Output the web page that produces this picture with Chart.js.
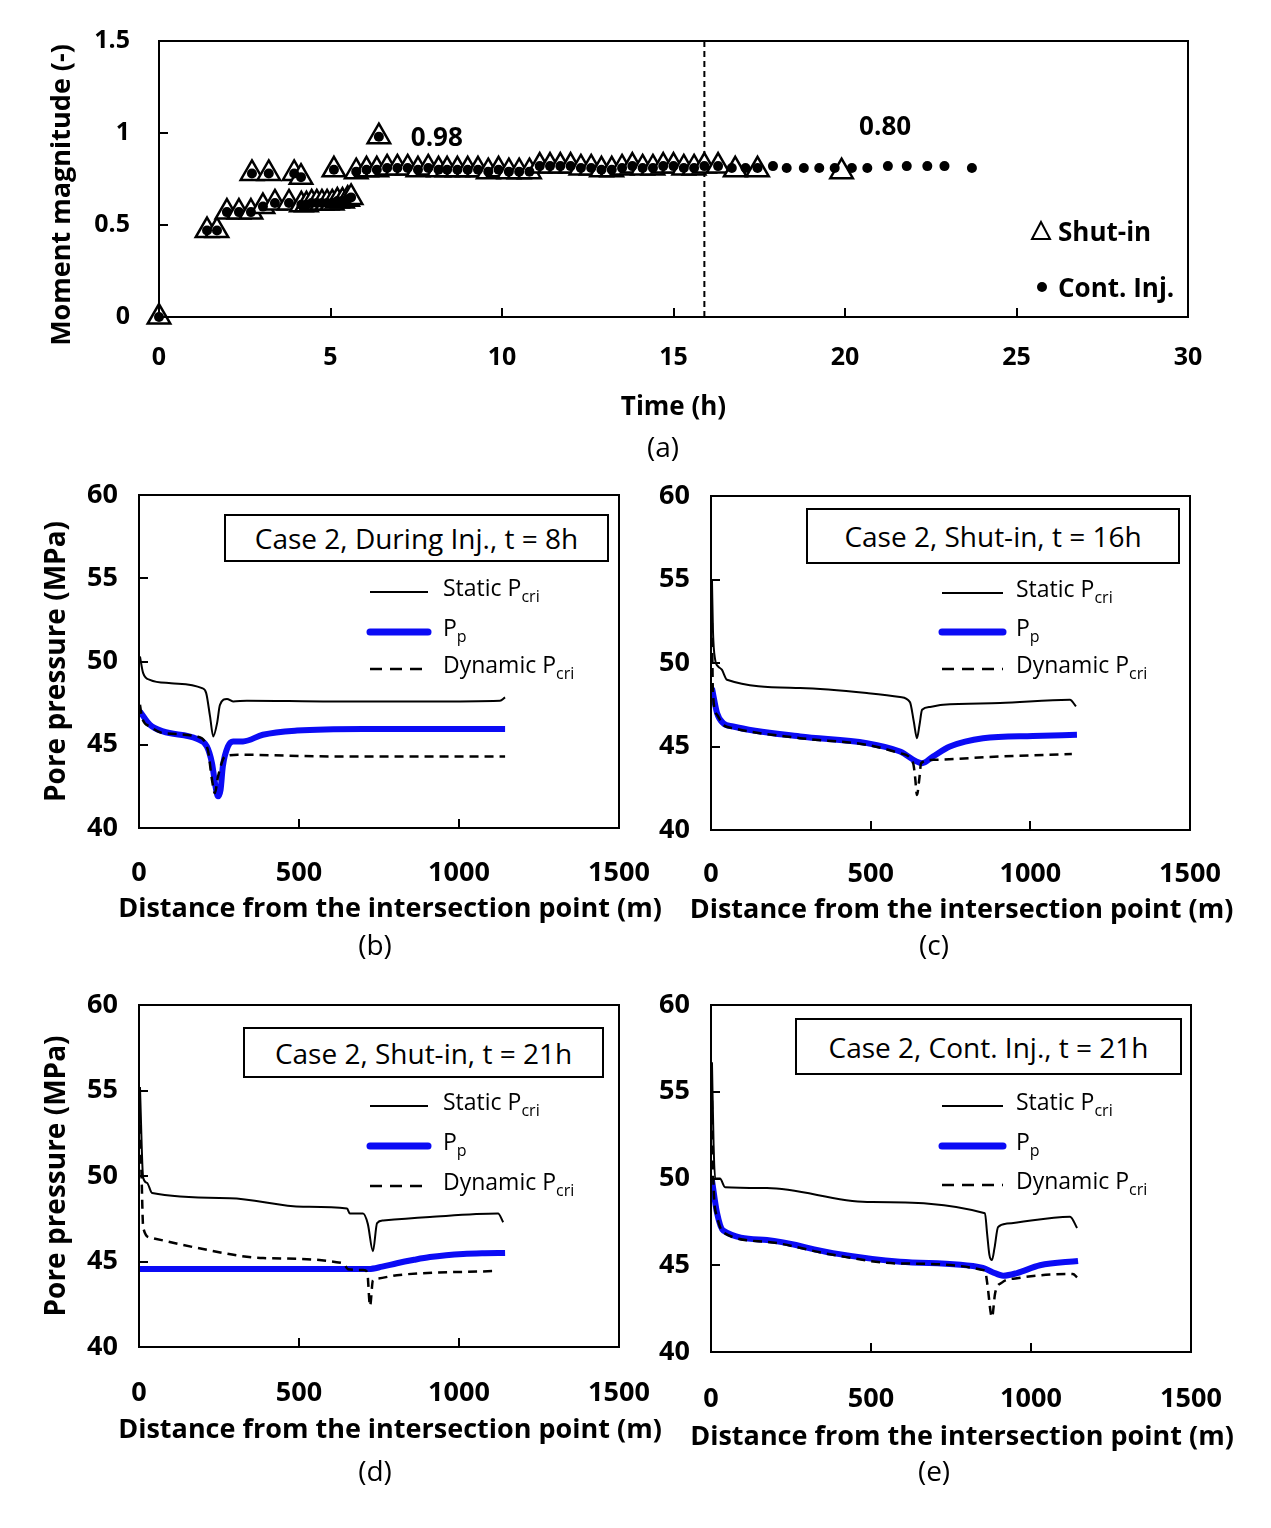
<!DOCTYPE html>
<html>
<head>
<meta charset="utf-8">
<script src="https://cdn.jsdelivr.net/npm/chart.js@4.4.1/dist/chart.umd.min.js"></script>
<style>
  body { margin: 0; background: #fff; font-family: "Open Sans", Lato, sans-serif; color: #000; }
  #page { position: relative; width: 1271px; height: 1528px; overflow: hidden; }
  canvas { position: absolute; }
  .txt { position: absolute; white-space: nowrap; line-height: 1; }
  .caption { font-size: 28px; transform: translate(-50%, -50%); }
  .casebox { position: absolute; border: 2px solid #000; box-sizing: border-box; background: #fff;
             display: flex; align-items: center; justify-content: center; font-size: 28px; }
  .leg { font-size: 23px; transform: translateY(-50%); }
  .leg sub { font-size: 16px; vertical-align: -6px; }
  .legA { font-size: 26px; font-weight: bold; transform: translateY(-50%); }
  svg { position: absolute; left: 0; top: 0; }
</style>
</head>
<body>
<div id="page">
  <canvas id="chart-a"></canvas>
  <canvas id="chart-b"></canvas>
  <canvas id="chart-c"></canvas>
  <canvas id="chart-d"></canvas>
  <canvas id="chart-e"></canvas>
  <svg id="overlay" width="1271" height="1528"></svg>
</div>
<script>
// ---- (a) moment magnitude of events, hours since injection start ----
// events before shut-in are the same for both scenarios
const sharedTime = [0, 1.4, 1.69, 1.98, 2.33, 2.68, 2.71, 3.03, 3.2, 3.38, 3.79, 3.94, 4.14,
  4.15, 4.3, 4.45, 4.6, 4.75, 4.9, 5.05, 5.1, 5.2, 5.35, 5.5, 5.6,
  5.75, 6.05, 6.35, 6.41, 6.65, 6.95, 7.25, 7.55, 7.85, 8.15, 8.4, 8.7, 9.0, 9.3, 9.6, 9.9,
  10.2, 10.5, 10.8, 11.1, 11.4, 11.7, 12.0, 12.3, 12.6, 12.9, 13.2, 13.5, 13.8, 14.1, 14.4,
  14.7, 15.0, 15.3, 15.6, 15.9];
const sharedMag = [0, 0.47, 0.47, 0.57, 0.57, 0.57, 0.78, 0.60, 0.78, 0.62, 0.62, 0.78, 0.76,
  0.61, 0.61, 0.62, 0.62, 0.62, 0.62, 0.62, 0.80, 0.63, 0.63, 0.64, 0.65,
  0.79, 0.80, 0.80, 0.98, 0.81, 0.81, 0.81, 0.80, 0.81, 0.80, 0.80, 0.80, 0.80, 0.80, 0.79, 0.80,
  0.79, 0.79, 0.79, 0.82, 0.82, 0.82, 0.82, 0.81, 0.81, 0.80, 0.80, 0.81, 0.82, 0.81, 0.81,
  0.82, 0.82, 0.81, 0.81, 0.82];
const shutInLateTime = [16.3, 16.8, 17.45, 19.9];
const shutInLateMag = [0.82, 0.80, 0.80, 0.79];
const contInjLateTime = [16.3, 16.7, 17.1, 17.45, 17.9, 18.3, 18.8, 19.25, 19.7, 20.2, 20.65,
  21.25, 21.8, 22.4, 22.9, 23.7];
const contInjLateMag = [0.82, 0.81, 0.81, 0.81, 0.82, 0.81, 0.81, 0.81, 0.81, 0.81, 0.81,
  0.82, 0.82, 0.82, 0.82, 0.81];
const shutInAt = 15.9;
const magTicks = [0, 0.5, 1, 1.5];
const timeTicks = [0, 5, 10, 15, 20, 25, 30];

// ---- (b)-(e) pressure along the fault, MPa vs distance (m) ----
const pressureTicks = [40, 45, 50, 55, 60];
const distanceTicks = [0, 500, 1000, 1500];

// (b) during injection, t = 8h
const bStaticX = [3, 13, 34, 100, 197, 210, 222, 232, 244, 253, 275, 294, 337, 600, 900, 1128, 1144];
const bStaticY = [50.3, 49.3, 48.9, 48.7, 48.4, 48.1, 46.7, 45.5, 46.3, 47.4, 47.75, 47.6, 47.65, 47.6, 47.6, 47.65, 47.85];
const bPpX = [3, 34, 75, 181, 212, 228, 240, 247, 255, 262, 278, 294, 325, 387, 494, 700, 1144];
const bPpY = [47.0, 46.2, 45.8, 45.35, 44.9, 43.9, 42.4, 41.9, 42.3, 43.7, 44.9, 45.2, 45.2, 45.6, 45.85, 45.95, 45.95];
const bDynX = [3, 10, 34, 75, 181, 215, 228, 237, 247, 269, 309, 600, 1144];
const bDynY = [47.4, 46.6, 46.1, 45.7, 45.5, 44.7, 42.9, 42.1, 43.1, 44.3, 44.4, 44.3, 44.3];

// (c) shut-in, t = 16h
const cStaticX = [3, 6, 13, 22, 34, 50, 279, 488, 592, 623, 635, 645, 653, 661, 686, 727, 905, 1124, 1143];
const cStaticY = [55.0, 52.0, 50.2, 49.8, 49.6, 49.0, 48.5, 48.2, 47.96, 47.66, 46.5, 45.5, 46.3, 47.2, 47.37, 47.5, 47.6, 47.8, 47.4];
const cPpX = [3, 19, 38, 69, 279, 488, 592, 661, 695, 748, 852, 1008, 1146];
const cPpY = [48.5, 47.0, 46.4, 46.2, 45.6, 45.2, 44.7, 44.0, 44.4, 45.0, 45.5, 45.63, 45.7];
const cDynX = [3, 6, 19, 38, 69, 279, 488, 592, 633, 639, 645, 652, 658, 695, 905, 1130];
const cDynY = [52.4, 48.2, 46.9, 46.3, 46.1, 45.5, 45.1, 44.6, 44.0, 43.2, 42.1, 43.0, 44.0, 44.2, 44.4, 44.55];

// (d) shut-in, t = 21h
const dStaticX = [3, 13, 25, 41, 284, 513, 650, 659, 700, 715, 731, 744, 763, 909, 1122, 1138];
const dStaticY = [55.2, 49.9, 49.6, 49.0, 48.7, 48.2, 48.1, 47.8, 47.8, 47.2, 45.6, 47.25, 47.4, 47.6, 47.8, 47.3];
const dPpX = [0, 718, 760, 806, 860, 909, 960, 1013, 1080, 1144];
const dPpY = [44.56, 44.56, 44.7, 44.9, 45.1, 45.26, 45.37, 45.44, 45.48, 45.5];
const dDynX = [3, 8, 13, 35, 181, 388, 638, 653, 700, 713, 722, 731, 744, 806, 1119];
const dDynY = [53.0, 50.0, 47.0, 46.4, 45.8, 45.2, 44.9, 44.55, 44.5, 44.4, 42.4, 43.9, 44.0, 44.2, 44.45];

// (e) continued injection, t = 21h
const eStaticX = [3, 8, 13, 28, 44, 175, 488, 856, 863, 870, 878, 886, 897, 925, 1122, 1144];
const eStaticY = [56.7, 52.0, 50.0, 50.0, 49.5, 49.45, 48.65, 48.0, 46.8, 45.6, 45.3, 46.0, 47.2, 47.4, 47.8, 47.15];
const ePpX = [3, 19, 38, 175, 381, 591, 850, 880, 913, 956, 1028, 1147];
const ePpY = [49.9, 48.0, 47.0, 46.45, 45.7, 45.2, 44.85, 44.6, 44.4, 44.55, 45.0, 45.25];
const eDynX = [3, 8, 19, 38, 175, 381, 591, 856, 863, 878, 888, 909, 956, 1131, 1144];
const eDynY = [54.5, 49.5, 47.8, 46.9, 46.35, 45.6, 45.1, 44.7, 44.0, 42.0, 43.4, 44.0, 44.25, 44.5, 44.3];

const FONT = '"Open Sans", Lato, sans-serif';
const PP_BLUE = '#0b0bf5';

Chart.defaults.font.family = FONT;
Chart.defaults.font.weight = 'bold';
Chart.defaults.color = '#000';

const pts = (xs, ys) => xs.map((x, i) => ({ x: x, y: ys[i] }));

// inward tick marks + closed frame, Excel style
const frameTicks = {
  id: 'frameTicks',
  afterDatasetsDraw(chart) {
    const { ctx, chartArea: a, scales } = chart;
    ctx.save();
    ctx.strokeStyle = '#000';
    ctx.lineWidth = 2;
    ctx.beginPath();
    scales.x.ticks.forEach((t, i) => {
      const px = Math.round(scales.x.getPixelForTick(i));
      ctx.moveTo(px, a.bottom);
      ctx.lineTo(px, a.bottom - 9);
    });
    scales.y.ticks.forEach((t, i) => {
      const py = Math.round(scales.y.getPixelForTick(i));
      ctx.moveTo(a.left, py);
      ctx.lineTo(a.left + 9, py);
    });
    ctx.stroke();
    ctx.strokeRect(a.left, a.top, a.width, a.height);
    ctx.restore();
  }
};

// axis title drawn at its natural width (the built-in one gets squeezed to the axis length)
function axisTitle(text, size, place) {
  return {
    id: 'axisTitle',
    afterDraw(chart) {
      const { ctx, chartArea: a } = chart;
      const p = place(a);
      ctx.save();
      ctx.font = 'bold ' + size + 'px ' + FONT;
      ctx.fillStyle = '#000';
      ctx.textAlign = 'center';
      ctx.textBaseline = 'middle';
      ctx.translate(p.x, p.y);
      if (p.vertical) ctx.rotate(-Math.PI / 2);
      ctx.fillText(text, 0, 0);
      ctx.restore();
    }
  };
}

function placeCanvas(id, L) {
  const c = document.getElementById(id);
  c.width = L.width;
  c.height = L.height;
  c.style.left = L.left + 'px';
  c.style.top = L.top + 'px';
  c.style.width = L.width + 'px';
  c.style.height = L.height + 'px';
  return c;
}

function tickList(values) {
  return (scale) => { scale.ticks = values.map(v => ({ value: v })); };
}

// fixed axis sizes, and no extra room asked for the end labels
function fixX(h) {
  return (s) => { s.height = h; s.paddingLeft = 0; s.paddingRight = 0; };
}
function fixY(w) {
  return (s) => { s.width = w; s.paddingTop = 0; s.paddingBottom = 0; };
}

const plainLabel = (v) => String(v);

/**
 * Panel (a): event magnitudes
 */
function drawMagnitudeChart() {
  const L = { left: 42, top: 21, width: 1186, height: 406, yw: 117, xh: 110, padTop: 20, padRight: 40 };
  const canvas = placeCanvas('chart-a', L);

  const labelsPlugin = {
    id: 'peakLabels',
    afterDatasetsDraw(chart) {
      const { ctx, scales: { x, y } } = chart;
      ctx.save();
      ctx.font = 'bold 26px ' + FONT;
      ctx.fillStyle = '#000';
      ctx.textAlign = 'center';
      ctx.textBaseline = 'middle';
      ctx.fillText('0.98', x.getPixelForValue(8.1), y.getPixelForValue(0.97));
      ctx.fillText('0.80', x.getPixelForValue(21.17), y.getPixelForValue(1.03));
      ctx.restore();
    }
  };

  new Chart(canvas, {
    type: 'scatter',
    data: {
      datasets: [
        {
          label: 'Cont. Inj.',
          data: pts(sharedTime.concat(contInjLateTime), sharedMag.concat(contInjLateMag)),
          pointStyle: 'circle',
          pointRadius: 5,
          backgroundColor: '#000',
          borderColor: '#000',
          borderWidth: 0,
          clip: false
        },
        {
          label: 'Shut-in',
          data: pts(sharedTime.concat(shutInLateTime), sharedMag.concat(shutInLateMag)),
          pointStyle: 'triangle',
          pointRadius: 13,
          backgroundColor: '#fff',
          borderColor: '#000',
          borderWidth: 2.5,
          clip: false
        },
        {
          label: 'shut-in time',
          data: [{ x: shutInAt, y: 0 }, { x: shutInAt, y: 1.5 }],
          showLine: true,
          pointRadius: 0,
          borderColor: '#000',
          borderWidth: 2,
          borderDash: [6, 4]
        }
      ]
    },
    options: {
      responsive: false,
      animation: false,
      devicePixelRatio: 1,
      layout: { padding: { top: L.padTop, right: L.padRight, left: 0, bottom: 0 } },
      plugins: { legend: { display: false }, tooltip: { enabled: false } },
      scales: {
        x: {
          type: 'linear', min: 0, max: 30,
          afterBuildTicks: tickList(timeTicks),
          ticks: { padding: 26, font: { size: 25, weight: 'bold' }, maxRotation: 0, autoSkip: false, callback: plainLabel },
          grid: { display: false, drawTicks: false },
          border: { display: false },
          title: { display: true, text: 'Time (h)', font: { size: 26, weight: 'bold' }, padding: { top: 0, bottom: 4 } },
          afterFit: fixX(L.xh)
        },
        y: {
          type: 'linear', min: 0, max: 1.5,
          afterBuildTicks: tickList(magTicks),
          ticks: { padding: 29, font: { size: 25, weight: 'bold' }, autoSkip: false, callback: plainLabel },
          grid: { display: false, drawTicks: false },
          border: { display: false },
          title: { display: false },
          afterFit: fixY(L.yw)
        }
      }
    },
    plugins: [frameTicks, labelsPlugin,
      axisTitle('Moment magnitude (-)', 27, (a) => ({ x: a.left - 97, y: (a.top + a.bottom) / 2 + 16, vertical: true }))]
  });
}

/**
 * Panels (b)-(e): pressure profiles
 */
function drawProfileChart(id, L, staticPts, ppPts, dynPts) {
  const canvas = placeCanvas(id, L);
  new Chart(canvas, {
    type: 'line',
    data: {
      datasets: [
        { label: 'Static Pcri', data: staticPts, borderColor: '#000', borderWidth: 2, pointRadius: 0, order: 0 },
        { label: 'Dynamic Pcri', data: dynPts, borderColor: '#000', borderWidth: 2.5, borderDash: [9, 6], pointRadius: 0, order: 1 },
        { label: 'Pp', data: ppPts, borderColor: PP_BLUE, borderWidth: 6, pointRadius: 0, order: 2 }
      ]
    },
    options: {
      responsive: false,
      animation: false,
      devicePixelRatio: 1,
      elements: { line: { cubicInterpolationMode: 'monotone', fill: false } },
      layout: { padding: { top: L.padTop, right: L.padRight, left: 0, bottom: 0 } },
      plugins: { legend: { display: false }, tooltip: { enabled: false } },
      scales: {
        x: {
          type: 'linear', min: 0, max: 1500,
          afterBuildTicks: tickList(distanceTicks),
          ticks: { padding: L.xPad, font: { size: 27, weight: 'bold' }, maxRotation: 0, autoSkip: false, callback: plainLabel },
          grid: { display: false, drawTicks: false },
          border: { display: false },
          title: { display: false },
          afterFit: fixX(L.xh)
        },
        y: {
          type: 'linear', min: 40, max: 60,
          afterBuildTicks: tickList(pressureTicks),
          ticks: { padding: 21, font: { size: 27, weight: 'bold' }, autoSkip: false, callback: plainLabel },
          grid: { display: false, drawTicks: false },
          border: { display: false },
          title: { display: L.yTitle, text: 'Pore pressure (MPa)', font: { size: 28, weight: 'bold' }, padding: { top: 4, bottom: 0 } },
          afterFit: fixY(L.yw)
        }
      }
    },
    plugins: [frameTicks,
      axisTitle('Distance from the intersection point (m)', 27, (a) => ({ x: (a.left + a.right) / 2 + 11, y: a.bottom + L.titleDy }))]
  });
}

// page furniture: captions, case boxes, legends
const svgNS = 'http://www.w3.org/2000/svg';
const page = document.getElementById('page');
const overlay = document.getElementById('overlay');

function addText(cls, html, x, y) {
  const d = document.createElement('div');
  d.className = 'txt ' + cls;
  d.innerHTML = html;
  d.style.left = x + 'px';
  d.style.top = y + 'px';
  page.appendChild(d);
}

function addSvg(tag, attrs) {
  const el = document.createElementNS(svgNS, tag);
  Object.entries(attrs).forEach(([k, v]) => el.setAttribute(k, v));
  overlay.appendChild(el);
}

function addCaseBox(text, x, y, w, h) {
  const d = document.createElement('div');
  d.className = 'casebox';
  d.textContent = text;
  Object.assign(d.style, { left: x + 'px', top: y + 'px', width: w + 'px', height: h + 'px' });
  page.appendChild(d);
}

function addProfileLegend(x1, x2, tx, rows) {
  addSvg('line', { x1: x1, x2: x2, y1: rows[0], y2: rows[0], stroke: '#000', 'stroke-width': 2 });
  addSvg('line', { x1: x1, x2: x2, y1: rows[1], y2: rows[1], stroke: PP_BLUE, 'stroke-width': 7, 'stroke-linecap': 'round' });
  addSvg('line', { x1: x1, x2: x2, y1: rows[2], y2: rows[2], stroke: '#000', 'stroke-width': 2.5, 'stroke-dasharray': '12 8' });
  addText('leg', 'Static P<sub>cri</sub>', tx, rows[0] - 2);
  addText('leg', 'P<sub>p</sub>', tx, rows[1] - 2);
  addText('leg', 'Dynamic P<sub>cri</sub>', tx, rows[2] - 2);
}

drawMagnitudeChart();
drawProfileChart('chart-b',
  { left: 36, top: 480, width: 643, height: 450, yw: 103, xh: 102, padTop: 15, padRight: 60, xPad: 29, titleDy: 81, yTitle: true },
  pts(bStaticX, bStaticY), pts(bPpX, bPpY), pts(bDynX, bDynY));
drawProfileChart('chart-c',
  { left: 608, top: 481, width: 642, height: 450, yw: 103, xh: 101, padTop: 15, padRight: 60, xPad: 28, titleDy: 80, yTitle: false },
  pts(cStaticX, cStaticY), pts(cPpX, cPpY), pts(cDynX, cDynY));
drawProfileChart('chart-d',
  { left: 36, top: 990, width: 643, height: 461, yw: 103, xh: 104, padTop: 15, padRight: 60, xPad: 30, titleDy: 83, yTitle: true },
  pts(dStaticX, dStaticY), pts(dPpX, dPpY), pts(dDynX, dDynY));
drawProfileChart('chart-e',
  { left: 608, top: 990, width: 643, height: 468, yw: 103, xh: 106, padTop: 15, padRight: 60, xPad: 31, titleDy: 85, yTitle: false },
  pts(eStaticX, eStaticY), pts(ePpX, ePpY), pts(eDynX, eDynY));

// legend of (a)
addSvg('polygon', { points: '1041,222 1050,239 1032,239', fill: '#fff', stroke: '#000', 'stroke-width': 2 });
addText('legA', 'Shut-in', 1058, 231);
addSvg('circle', { cx: 1042, cy: 287, r: 5, fill: '#000' });
addText('legA', 'Cont. Inj.', 1058, 287);

addCaseBox('Case 2, During Inj., t = 8h', 224, 514, 385, 48);
addCaseBox('Case 2, Shut-in, t = 16h', 806, 508, 374, 56);
addCaseBox('Case 2, Shut-in, t = 21h', 243, 1027, 361, 51);
addCaseBox('Case 2, Cont. Inj., t = 21h', 795, 1018, 387, 57);

addProfileLegend(370, 428, 443, [592, 632, 669]);
addProfileLegend(942, 1003, 1016, [593, 632, 669]);
addProfileLegend(370, 428, 443, [1106, 1146, 1186]);
addProfileLegend(942, 1003, 1016, [1106, 1146, 1185]);

addText('caption', '(a)', 663, 446);
addText('caption', '(b)', 375, 944);
addText('caption', '(c)', 934, 944);
addText('caption', '(d)', 375, 1470);
addText('caption', '(e)', 934, 1470);
</script>
</body>
</html>
